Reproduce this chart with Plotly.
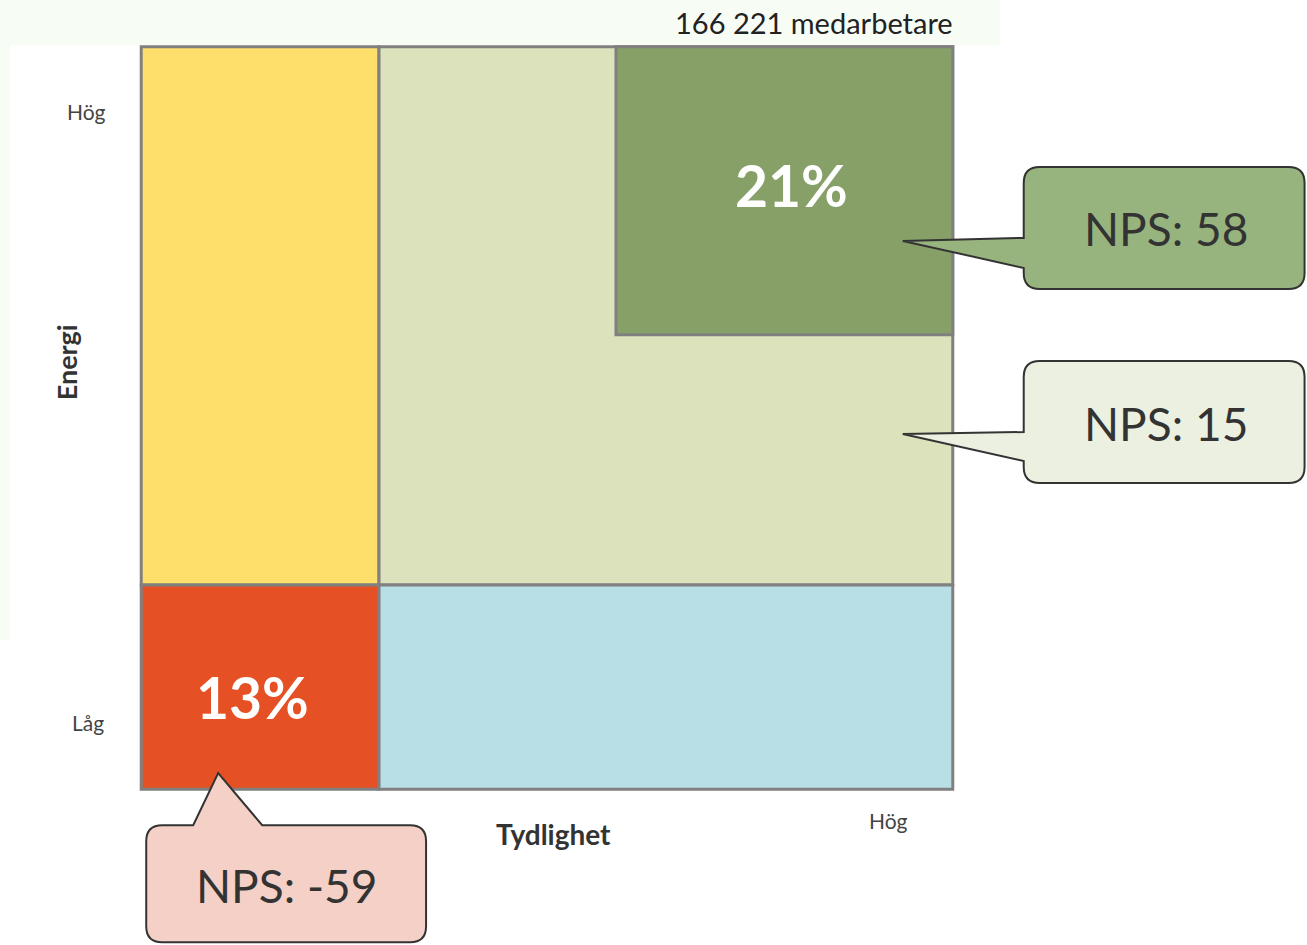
import plotly.graph_objects as go

# ---- data (fractions of the mosaic) ----
clarity_split = 0.293      # boundary between low / high clarity (x)
energy_split = 0.275       # boundary between low / high energy (y)
top_clarity = 0.585        # left edge of the top segment
top_energy = 0.612         # bottom edge of the top segment

segment_names = ["Låg tydlighet, hög energi", "Hög tydlighet, hög energi",
                 "Topp", "Låg tydlighet, låg energi", "Hög tydlighet, låg energi"]
segment_colors = ["#FFDF6B", "#DCE3BC", "#86A068", "#E55125", "#B8DFE6"]

pct_labels = ["21%", "13%"]
nps_labels = ["NPS: 58", "NPS: 15", "NPS: -59"]
nps_fills = ["#98B47E", "#EBF0E1", "#F5D0C7"]
title_text = "166 221 medarbetare"
x_title = "Tydlighet"
y_title = "Energi"
tick_hi = "Hög"
tick_lo = "Låg"

# ---- layout geometry (pixels of the target image) ----
FW, FH = 1307, 945
OFF = 0                 # body margin removed via post_script
X0, X1 = 141, 953       # pixel of x=0, x=1
Y1, Y0 = 47, 789        # pixel of y=1, y=0
pad = 0.02
spanx, spany = X1 - X0, Y0 - Y1
pl = X0 - OFF - pad * spanx
pr = X1 - OFF + pad * spanx
pt = Y1 - OFF - pad * spany
pb = Y0 - OFF + pad * spany
PW, PH = pr - pl, pb - pt


def P(px, py):
    return ((px - OFF - pl) / PW, (pb - (py - OFF)) / PH)


def rect_segs():
    return [
        (0, clarity_split, energy_split, 1),
        (clarity_split, 1, energy_split, 1),
        (top_clarity, 1, top_energy, 1),
        (0, clarity_split, 0, energy_split),
        (clarity_split, 1, 0, energy_split),
    ]


fig = go.Figure()
fig.add_trace(go.Scatter(x=[0, 1], y=[0, 1], mode="markers",
                         marker=dict(opacity=0), hoverinfo="skip", showlegend=False))

shapes = []
# faint background glow at top / left
shapes.append(dict(type="rect", xref="paper", yref="paper", layer="below",
                   x0=P(0, 0)[0], x1=P(1000, 0)[0], y0=P(0, 45)[1], y1=P(0, 0)[1],
                   fillcolor="#F7FCF5", line=dict(width=0)))
shapes.append(dict(type="rect", xref="paper", yref="paper", layer="below",
                   x0=P(0, 0)[0], x1=P(10, 0)[0], y0=P(0, 640)[1], y1=P(0, 45)[1],
                   fillcolor="#F7FCF5", line=dict(width=0)))

for (a, b, c, d), col in zip(rect_segs(), segment_colors):
    shapes.append(dict(type="rect", xref="x", yref="y", x0=a, x1=b, y0=c, y1=d,
                       fillcolor=col, line=dict(color="#808080", width=3)))


def p(px, py):
    u, v = P(px, py)
    return f"{u:.5f},{v:.5f}"


def callout_left(x0, y0, x1, y1, r, ta, tip, tb):
    return (f"M{p(x0 + r, y0)} L{p(x1 - r, y0)} Q{p(x1, y0)} {p(x1, y0 + r)} "
            f"L{p(x1, y1 - r)} Q{p(x1, y1)} {p(x1 - r, y1)} L{p(x0 + r, y1)} "
            f"Q{p(x0, y1)} {p(x0, y1 - r)} L{p(x0, tb)} L{p(*tip)} L{p(x0, ta)} "
            f"L{p(x0, y0 + r)} Q{p(x0, y0)} {p(x0 + r, y0)} Z")


def callout_top(x0, y0, x1, y1, r, ba, tip, bb):
    return (f"M{p(x0 + r, y0)} L{p(ba, y0)} L{p(*tip)} L{p(bb, y0)} "
            f"L{p(x1 - r, y0)} Q{p(x1, y0)} {p(x1, y0 + r)} "
            f"L{p(x1, y1 - r)} Q{p(x1, y1)} {p(x1 - r, y1)} L{p(x0 + r, y1)} "
            f"Q{p(x0, y1)} {p(x0, y1 - r)} L{p(x0, y0 + r)} Q{p(x0, y0)} {p(x0 + r, y0)} Z")


line_c = dict(color="#333333", width=2)
shapes.append(dict(type="path", xref="paper", yref="paper",
                   path=callout_left(1024, 167, 1305, 289, 16, 238, (903, 241), 268),
                   fillcolor=nps_fills[0], line=line_c))
shapes.append(dict(type="path", xref="paper", yref="paper",
                   path=callout_left(1024, 361, 1305, 483, 16, 432, (903, 434), 461),
                   fillcolor=nps_fills[1], line=line_c))
shapes.append(dict(type="path", xref="paper", yref="paper",
                   path=callout_top(146, 825, 426, 942, 16, 193, (218, 773), 262),
                   fillcolor=nps_fills[2], line=line_c))

ann = []


def text(px, py, s, size, color="#333333", family="Lato, sans-serif", angle=0,
         xanchor="center", bold=False):
    u, v = P(px, py)
    ann.append(dict(xref="paper", yref="paper", x=u, y=v, text=(f"<b>{s}</b>" if bold else s),
                    showarrow=False, xanchor=xanchor, yanchor="middle", textangle=angle,
                    font=dict(size=size, color=color, family=family)))


text(792, 185, pct_labels[0], 57, "#FFFFFF", bold=True)
text(252, 697, pct_labels[1], 57, "#FFFFFF", bold=True)
text(1166, 229, nps_labels[0], 46, "#333333")
text(1166, 423, nps_labels[1], 46, "#333333")
text(286, 885, nps_labels[2], 46, "#333333")
text(955, 23, title_text, 29, "#222222", xanchor="right")
text(554, 834, x_title, 28, "#333333", bold=True)
text(67, 362, y_title, 27, "#333333", angle=-90, bold=True)
text(86, 112, tick_hi, 21, "#444444")
text(88, 722, tick_lo, 21, "#444444")
text(889, 820, tick_hi, 21, "#444444")

fig.update_layout(
    width=FW, height=FH,
    margin=dict(l=pl, r=FW - pr, t=pt, b=FH - pb, pad=0),
    paper_bgcolor="#FFFFFF", plot_bgcolor="rgba(0,0,0,0)",
    xaxis=dict(range=[-pad, 1 + pad], visible=False, fixedrange=True),
    yaxis=dict(range=[-pad, 1 + pad], visible=False, fixedrange=True),
    shapes=shapes, annotations=ann, showlegend=False,
)

fig.write_html("out.html", config={"displayModeBar": False},
               post_script="document.body.style.margin='0';document.body.style.overflow='hidden';")
